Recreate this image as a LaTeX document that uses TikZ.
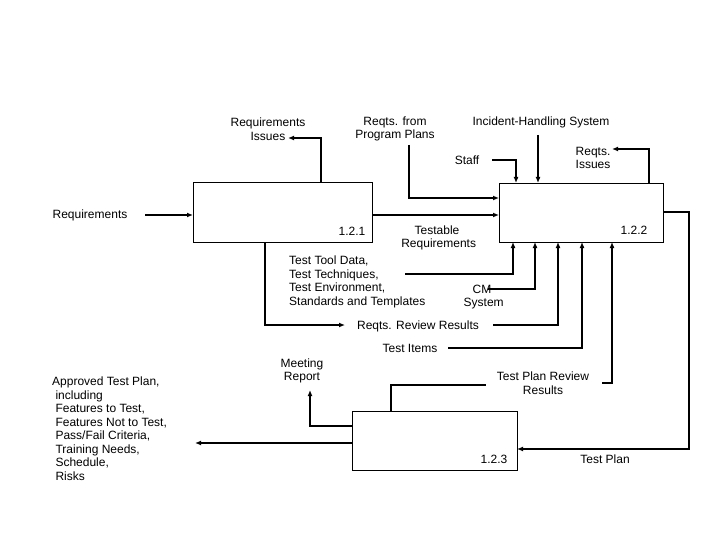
\documentclass[tikz,border=0pt]{standalone}
\usepackage{fontspec}
\setmainfont{Liberation Sans}
\usetikzlibrary{arrows.meta}
\begin{document}
\begin{tikzpicture}[x=1pt,y=-1pt,
  box/.style={draw,line width=0.8pt},
  flow/.style={line width=2.2pt,-{Latex[length=6pt,width=5pt]}},
  plain/.style={line width=2.2pt},
  lbl/.style={font=\fontsize{12}{13.5}\selectfont,inner sep=0pt,align=center},
  lbll/.style={font=\fontsize{12}{13.5}\selectfont,inner sep=0pt,align=left}]
\useasboundingbox (0,0) rectangle (720,540);
\draw[box] (193,182) rectangle (372,242);
\draw[box] (499,183) rectangle (663,242);
\draw[box] (352,411) rectangle (517,470);
\node[lbl] (n1) at (352,231) {1.2.1};
\node[lbl] (n2) at (634,230) {1.2.2};
\node[lbl] (n3) at (494,459) {1.2.3};
% labels
\node[lbl] (req) at (90,215) {Requirements};
\node[lbl] (ri) at (268,129) {Requirements\\Issues};
\node[lbl] (rpp) at (395,129) {Reqts. from\\Program Plans};
\node[lbl] (ihs) at (541,122) {Incident-Handling System};
\node[lbl] (staff) at (467,160) {Staff};
\node[lbl] (ri2) at (593,158) {Reqts.\\Issues};
\node[lbl] (tr) at (437,238) {Testable\\\ Requirements};
\node[lbll,anchor=west] (ttd) at (289,282) {Test Tool Data,\\ Test Techniques,\\ Test Environment,\\Standards and Templates};
\node[lbl] (cm) at (482,297) {CM\\\ System};
\node[lbl] (rrr) at (418,326) {Reqts. Review Results};
\node[lbl] (ti) at (410,348) {Test Items};
\node[lbl] (mr) at (302,371) {Meeting\\Report};
\node[lbl] (tprr) at (543,383) {Test Plan Review\\Results};
\node[lbl] (tp) at (605,459) {Test Plan};
\node[lbll,anchor=north west] (atp) at (52,377) {Approved Test Plan,\\ \ including\\ \ Features to Test,\\ \ Features Not to Test,\\ \ Pass/Fail Criteria,\\ \ Training Needs,\\ \ Schedule,\\ \ Risks};
% connectors
\draw[flow,line width=1.2pt] (145,215) -- (193,215);
\draw[flow] (321,182) -- (321,138) -- (288,138);
\draw[flow] (409,145) -- (409,198) -- (499,198);
\draw[flow] (372,215) -- (499,215);
\draw[flow] (492,160) -- (516,160) -- (516,183);
\draw[flow] (538,135) -- (538,183);
\draw[flow] (649,183) -- (649,149) -- (612,149);
\draw[flow] (663,212) -- (689,212) -- (689,449) -- (517,449);
\draw[flow] (405,274) -- (513,274) -- (513,242);
\draw[flow] (488,289) -- (535,289) -- (535,242);
\draw[flow] (493,325) -- (558,325) -- (558,242);
\draw[flow] (448,348) -- (582,348) -- (582,242);
\draw[flow] (602,383) -- (612,383) -- (612,242);
\draw[flow] (265,242) -- (265,325) -- (345,325);
\draw[line width=1.2pt] (391,411) -- (391,385) -- (486,385);
\draw[flow] (352,426) -- (310,426) -- (310,390);
\draw[flow,line width=1.2pt] (352,443) -- (195,443);
\end{tikzpicture}
\end{document}
